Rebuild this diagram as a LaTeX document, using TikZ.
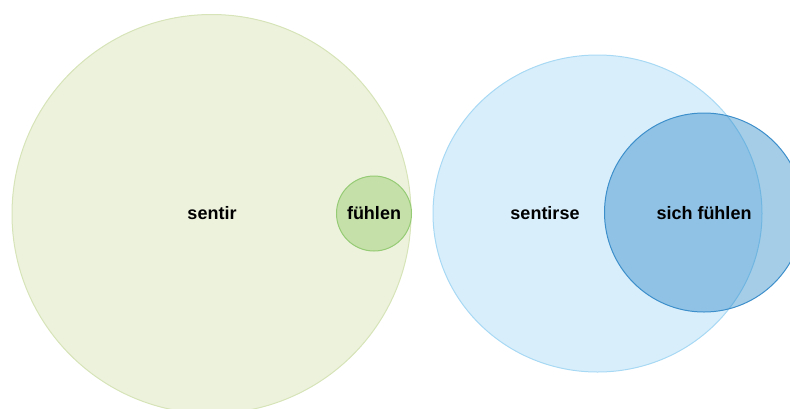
\documentclass[tikz,border=0pt]{standalone}
\usepackage{fontspec}
\setmainfont{Liberation Sans}
\definecolor{gfill}{HTML}{EDF2DD}
\definecolor{gline}{HTML}{D6E4B8}
\definecolor{sgfill}{HTML}{C6E0A9}
\definecolor{sgline}{HTML}{95CB74}
\definecolor{lbfill}{HTML}{D9EEFB}
\definecolor{lbline}{HTML}{A8D9F4}
\definecolor{dbfill}{RGB}{32,130,197}
\definecolor{dbline}{HTML}{3D8FCB}
\begin{document}
\begin{tikzpicture}[x=1pt,y=-1pt,
  lab/.style={font=\bfseries\fontsize{18}{20}\selectfont, text=black, inner sep=0pt},
  setcirc/.style={line width=1pt}]
\useasboundingbox (0,0) rectangle (790,408);
\clip (0,0) rectangle (790,408);
% left group
\fill[gfill, draw=gline, setcirc] (211.5,214) circle[radius=199.5];
\node[circle, minimum size=75pt, inner sep=0pt, fill=sgfill, draw=sgline, setcirc] (fuehlen) at (374,213.5) {};
\node[lab] (sentir) at (212,213) {sentir};
\node[lab] at (fuehlen.center) {fühlen};
% right group
\fill[lbfill, draw=lbline, setcirc] (597.5,213.5) ellipse[x radius=164.5, y radius=158.5];
\fill[dbfill, fill opacity=0.4, draw=dbline, setcirc] (704,212.5) circle[radius=99.5];
\node[lab] (sentirse) at (545,213) {sentirse};
\node[lab] (sichfuehlen) at (704,213) {sich fühlen};
\end{tikzpicture}
\end{document}
